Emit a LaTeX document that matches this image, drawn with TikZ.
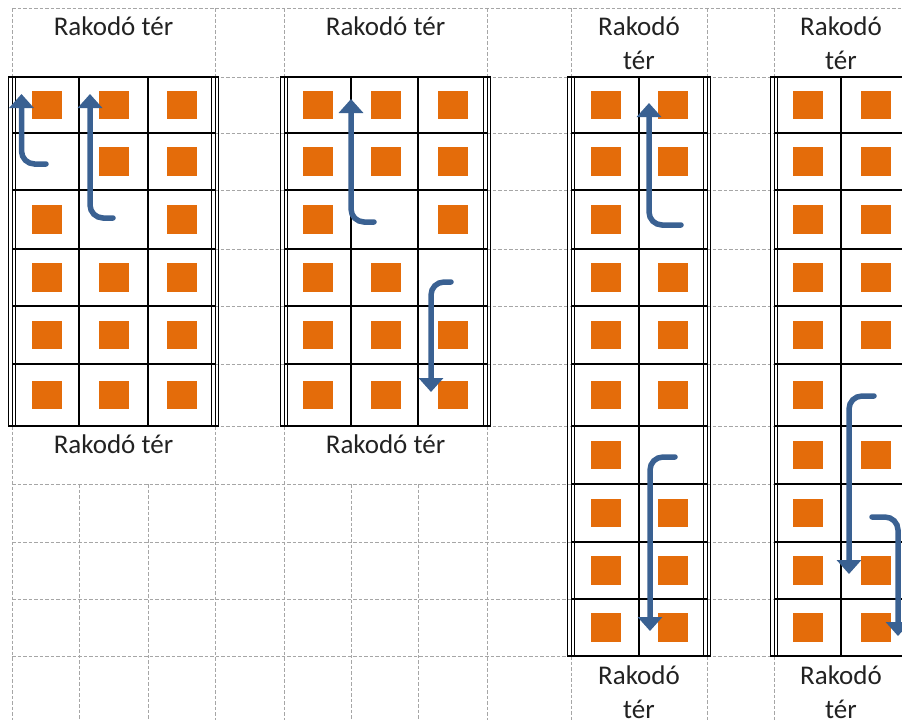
\documentclass[tikz,border=0pt]{standalone}
\usepackage{fontspec}
\setmainfont{Carlito}
\usetikzlibrary{arrows.meta}
\definecolor{gridgray}{HTML}{A6A6A6}
\definecolor{boxorange}{HTML}{E46C0A}
\definecolor{routeblue}{HTML}{3A6192}
\definecolor{labeltext}{HTML}{222222}

% frame of one storage rack: left x, right x, top y, bottom y, inner column xs, inner row ys
\newcommand\rackframe[6]{%
  \foreach \yy in {#6} {\draw[cellline] (#1,\yy) -- (#2,\yy);}
  \foreach \xx in {#5} {\draw[cellline] (\xx,#3) -- (\xx,#4);}
  \draw[cellline] (#1-3.8,#3) -- (#2+3.8,#3);
  \draw[cellline] (#1-3.8,#4) -- (#2+3.8,#4);
  \foreach \dx in {-3.2,0,3.2} {
    \draw[railline] (#1+\dx,#3) -- (#1+\dx,#4);
    \draw[railline] (#2+\dx,#3) -- (#2+\dx,#4);
  }%
}
% fixed top of the first text line, so labels sit by their baseline
\newcommand\firstline{\rule{0pt}{24pt}}

\begin{document}
\begin{tikzpicture}[x=1pt,y=-1pt,
  gridline/.style={draw=gridgray, line width=1pt, dash pattern=on 3.5pt off 2pt},
  cellline/.style={draw=black, line width=1.3pt},
  railline/.style={draw=black, line width=0.9pt},
  crate/.style={fill=boxorange, draw=none, minimum width=30pt, minimum height=28.5pt, inner sep=0pt, outer sep=0pt},
  zonelabel/.style={font=\fontsize{27}{34}\selectfont, text=labeltext, align=center, anchor=north, inner sep=0pt},
  route/.style={draw=routeblue, line width=5.5pt, line cap=round, rounded corners=13pt, -{Triangle[width=24pt,length=14pt]}}
]
\useasboundingbox (0,0) rectangle (902,720);
\clip (0,0) rectangle (902,720);

% sheet gridlines
\draw[gridline] (12,8) -- (902,8);
\foreach \yy in {77,133,190,249,306,364,426} {
  \draw[gridline] (215,\yy) -- (284,\yy);
  \draw[gridline] (487,\yy) -- (571,\yy);
}
\foreach \yy in {77,133,190,249,306,364,426,484,542,599,656} {
  \draw[gridline] (707,\yy) -- (774,\yy);
}
\foreach \yy in {484,542,599,656} {\draw[gridline] (12,\yy) -- (571,\yy);}
\foreach \xx in {12,215,284,487,571,707,774} {\draw[gridline] (\xx,8) -- (\xx,77);}
\foreach \xx in {12,215,284,487} {\draw[gridline] (\xx,426) -- (\xx,720);}
\foreach \xx in {79,148,351,418} {\draw[gridline] (\xx,484) -- (\xx,720);}
\foreach \xx in {571,707,774} {\draw[gridline] (\xx,656) -- (\xx,720);}

% racks
\rackframe{12}{215}{77}{426}{79,148}{133,190,249,306,364}
\rackframe{284}{487}{77}{426}{351,418}{133,190,249,306,364}
\rackframe{571}{707}{77}{656}{639}{133,190,249,306,364,426,484,542,599}
\rackframe{774}{908}{77}{656}{841}{133,190,249,306,364,426,484,542,599}

% stored goods
\def\rowcenters{{105,161.5,219.5,277.5,335,395,455,513,570.5,627.5}}
\foreach \r/\cs in {1/{1,2,3},2/{2,3},3/{1,3},4/{1,2,3},5/{1,2,3},6/{1,2,3}} {
  \foreach \c in \cs {
    \pgfmathsetmacro\cx{{47,114,182}[\c-1]}
    \pgfmathsetmacro\cy{\rowcenters[\r-1]}
    \node[crate] (ra-\r-\c) at (\cx,\cy) {};
  }
}
\foreach \r/\cs in {1/{1,2,3},2/{1,2,3},3/{1,3},4/{1,2},5/{1,2,3},6/{1,2,3}} {
  \foreach \c in \cs {
    \pgfmathsetmacro\cx{{318,386,453}[\c-1]}
    \pgfmathsetmacro\cy{\rowcenters[\r-1]}
    \node[crate] (rb-\r-\c) at (\cx,\cy) {};
  }
}
\foreach \r/\cs in {1/{1,2},2/{1,2},3/{1},4/{1,2},5/{1,2},6/{1,2},7/{1},8/{1,2},9/{1,2},10/{1,2}} {
  \foreach \c in \cs {
    \pgfmathsetmacro\cx{{606,673}[\c-1]}
    \pgfmathsetmacro\cy{\rowcenters[\r-1]}
    \node[crate] (rc-\r-\c) at (\cx,\cy) {};
  }
}
\foreach \r/\cs in {1/{1,2},2/{1,2},3/{1,2},4/{1,2},5/{1,2},6/{1},7/{1,2},8/{1},9/{1,2},10/{1,2}} {
  \foreach \c in \cs {
    \pgfmathsetmacro\cx{{808,876}[\c-1]}
    \pgfmathsetmacro\cy{\rowcenters[\r-1]}
    \node[crate] (rd-\r-\c) at (\cx,\cy) {};
  }
}

% loading areas
\node[zonelabel] (top-a) at (113.5,11) {\firstline Rakodó tér};
\node[zonelabel] (top-b) at (385.5,11) {\firstline Rakodó tér};
\node[zonelabel] (top-c) at (639,11) {\firstline Rakodó\\tér};
\node[zonelabel] (top-d) at (841,11) {\firstline Rakodó\\tér};
\node[zonelabel] (bot-a) at (113.5,429.5) {\firstline Rakodó tér};
\node[zonelabel] (bot-b) at (385.5,429.5) {\firstline Rakodó tér};
\node[zonelabel] (bot-c) at (639,660.5) {\firstline Rakodó\\tér};
\node[zonelabel] (bot-d) at (841,660.5) {\firstline Rakodó\\tér};

% picking routes
\coordinate (pa-s) at (46,164);   \coordinate (pa-b) at (21.5,164); \coordinate (pa-e) at (21.5,94);
\coordinate (pb-s) at (113,218);  \coordinate (pb-b) at (90,218);   \coordinate (pb-e) at (90,94);
\coordinate (pc-s) at (374,222);  \coordinate (pc-b) at (351,222);  \coordinate (pc-e) at (351,99);
\coordinate (pd-s) at (451,282);  \coordinate (pd-b) at (431,282);  \coordinate (pd-e) at (431,392);
\coordinate (pe-s) at (681,225);  \coordinate (pe-b) at (649,225);  \coordinate (pe-e) at (649,103);
\coordinate (pf-s) at (675,457);  \coordinate (pf-b) at (650,457);  \coordinate (pf-e) at (650,631);
\coordinate (pg-s) at (874,396);  \coordinate (pg-b) at (849,396);  \coordinate (pg-e) at (849,574);
\coordinate (ph-s) at (872,517);  \coordinate (ph-b) at (898,517);  \coordinate (ph-e) at (898,636);
\foreach \p in {pa,pb,pc,pd,pe,pf,pg,ph} {
  \draw[route] (\p-s) -- (\p-b) -- (\p-e);
}
\end{tikzpicture}
\end{document}
